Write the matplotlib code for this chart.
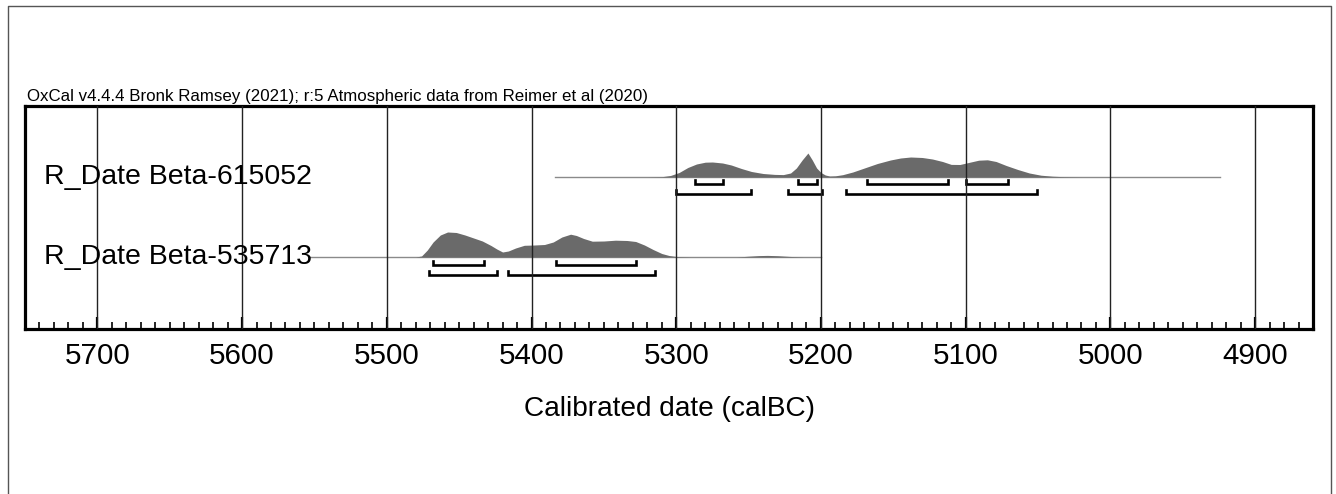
import matplotlib
matplotlib.use("Agg")
import matplotlib.pyplot as plt
from matplotlib.lines import Line2D
from matplotlib.ticker import MultipleLocator, FixedLocator

plt.rcParams['font.family'] = ['Liberation Sans', 'DejaVu Sans']

# ---------------- data ----------------
header = "OxCal v4.4.4 Bronk Ramsey (2021); r:5 Atmospheric data from Reimer et al (2020)"
xlabel = "Calibrated date (calBC)"
tick_years = [5700, 5600, 5500, 5400, 5300, 5200, 5100, 5000, 4900]

names = ["R_Date Beta-615052", "R_Date Beta-535713"]

# relative probability (arbitrary units) vs calendar year BC
years_615052 = [5384, 5320, 5310, 5304, 5298, 5292, 5286, 5280, 5275, 5268, 5262,
                5255, 5248, 5240, 5232, 5226, 5221, 5217, 5213, 5209, 5206, 5203,
                5200, 5197, 5194, 5190, 5185, 5178, 5170, 5161, 5152, 5145, 5138,
                5130, 5123, 5116, 5110, 5104, 5098, 5091, 5085, 5079, 5072, 5064,
                5056, 5048, 5040, 5032, 5020, 4924]
prob_615052 = [0, 0, 0.3, 1.5, 4.5, 9.5, 13, 14.8, 15, 14, 12,
               8.5, 5.5, 3.5, 2.6, 2.4, 4.0, 9, 17, 24, 17, 9,
               4.5, 2, 1, 1.2, 2.3, 5, 9, 13.5, 17, 19, 20,
               19.5, 18, 15.5, 12.6, 12.5, 14.5, 16.8, 17.2, 15.5, 11.5, 7.5,
               4, 1.8, 0.8, 0.3, 0, 0]

years_535713 = [5553, 5480, 5476, 5472, 5468, 5463, 5458, 5452, 5446, 5440, 5434,
                5428, 5424, 5420, 5416, 5411, 5405, 5398, 5391, 5385, 5379, 5373,
                5369, 5364, 5358, 5350, 5342, 5334, 5328, 5322, 5316, 5310, 5305,
                5300, 5290, 5258, 5250, 5243, 5237, 5230, 5222, 5212, 5200]
prob_535713 = [0, 0, 1, 7, 15, 22, 25, 24.5, 22, 19, 16,
               11.5, 8, 5, 6, 9, 11.7, 12, 12.5, 15, 20, 22.8,
               21.5, 18.5, 15.8, 16, 16.8, 16.5, 15.5, 12, 7.5, 3.5, 1.5,
               0.5, 0, 0, 0.8, 1.4, 1.6, 1.3, 0.6, 0, 0]

# highest posterior density ranges (68.3% and 95.4%)
hpd68_615052 = [(5287, 5268), (5216, 5203), (5168, 5112), (5100, 5071)]
hpd95_615052 = [(5300, 5248), (5223, 5199), (5183, 5051)]
hpd68_535713 = [(5468, 5433), (5383, 5328)]
hpd95_535713 = [(5471, 5424), (5416, 5315)]

# ---------------- figure ----------------
W, H = 1336, 494
fig = plt.figure(figsize=(W / 100, H / 100), dpi=100)
fig.patch.set_facecolor('white')

ax_l, ax_r, ax_t, ax_b = 25, 1313, 106, 329
ax = fig.add_axes([ax_l / W, 1 - ax_b / H, (ax_r - ax_l) / W, (ax_b - ax_t) / H])
ax.set_xlim(5750, 4860)
ax.set_ylim(0, ax_b - ax_t)

# rows: baseline position (px from axes bottom)
rows = [
    (names[0], 152, years_615052, prob_615052, hpd68_615052, hpd95_615052),
    (names[1], 72, years_535713, prob_535713, hpd68_535713, hpd95_535713),
]
scale = 1.0
for name, base, yrs, pr, h68, h95 in rows:
    ax.plot([yrs[0], yrs[-1]], [base, base], color='#8a8a8a', lw=1.0, zorder=2)
    ax.fill_between(yrs, base, [base + scale * p for p in pr],
                    color='#6a6a6a', lw=0, zorder=3)
    for dy, ranges in ((-7.5, h68), (-17.5, h95)):
        yb = base + dy
        for a, b in ranges:
            ax.plot([a, a, b, b], [yb + 4, yb, yb, yb + 4], color='black',
                    lw=1.9, solid_joinstyle='miter', zorder=4)
    ax.text(5737, base, name, fontsize=20.5, ha='left', va='center', zorder=5)

# vertical grid lines
for yr in tick_years:
    ax.axvline(yr, color='#222222', lw=1.0, zorder=4.5)

for s in ax.spines.values():
    s.set_linewidth(2.3)
    s.set_color('black')

ax.xaxis.set_major_locator(FixedLocator(tick_years))
ax.xaxis.set_minor_locator(MultipleLocator(10))
ax.tick_params(axis='x', which='major', direction='in', length=9, width=1.6,
               labelsize=21.3, pad=9.5, top=False)
ax.tick_params(axis='x', which='minor', direction='in', length=5, width=1.2, top=False)
ax.set_xticklabels([str(t) for t in tick_years])
ax.set_yticks([])

fig.text(669 / W, 1 - 409 / H, xlabel, fontsize=20.2, ha='center', va='center')
fig.text(27 / W, 1 - 100.5 / H, header, fontsize=12.2, ha='left', va='baseline')

# outer frame (left, top, right)
fig.add_artist(Line2D([7.5 / W, 7.5 / W, 1330.5 / W, 1330.5 / W],
                      [0, 1 - 6.5 / H, 1 - 6.5 / H, 0],
                      color='#555555', lw=1.0, transform=fig.transFigure))

fig.savefig('out.png', dpi=100)
